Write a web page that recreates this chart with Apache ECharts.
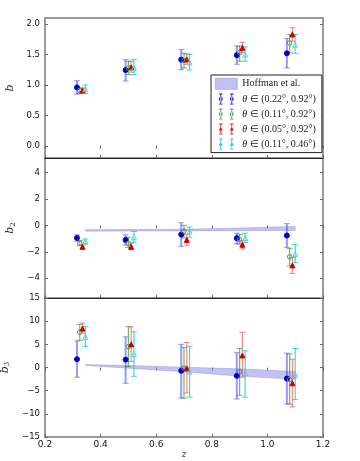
<!DOCTYPE html>
<html>
<head>
<meta charset="utf-8">
<script src="https://cdn.jsdelivr.net/npm/echarts@6/dist/echarts.min.js"></script>
<style>
  html, body { margin: 0; padding: 0; background: #fff; }
  #main { width: 360px; height: 461px; }
</style>
</head>
<body>
<div id="main"></div>
<script>
// redshift of each sample (slightly shifted so the bars don't overlap)
var zA = [0.315, 0.49, 0.69, 0.89, 1.07];
var zB = [0.325, 0.50, 0.70, 0.90, 1.08];
var zC = [0.335, 0.51, 0.71, 0.91, 1.09];
var zD = [0.345, 0.52, 0.72, 0.92, 1.10];

// [value, low, high] per redshift
var b1A = [[0.96, 0.85, 1.07], [1.245, 1.065, 1.415], [1.415, 1.25, 1.58], [1.49, 1.34, 1.64], [1.52, 1.28, 1.76]];
var b1B = [[0.91, 0.86, 0.95], [1.28, 1.17, 1.39], [1.40, 1.28, 1.52], [1.53, 1.39, 1.64], [1.69, 1.53, 1.83]];
var b1C = [[0.91, 0.87, 0.95], [1.29, 1.21, 1.39], [1.42, 1.34, 1.51], [1.61, 1.53, 1.70], [1.83, 1.72, 1.94]];
var b1D = [[0.93, 0.86, 1.00], [1.28, 1.17, 1.42], [1.37, 1.245, 1.50], [1.50, 1.39, 1.625], [1.66, 1.52, 1.83]];

var b2A = [[-0.95, -1.2, -0.72], [-1.1, -1.49, -0.72], [-0.7, -1.59, 0.2], [-0.97, -1.41, -0.59], [-0.77, -1.67, 0.13]];
var b2B = [[-1.36, -1.54, -1.15], [-1.36, -1.67, -0.9], [-0.44, -0.95, 0.0], [-1.1, -1.41, -0.69], [-2.38, -3.08, -1.74]];
var b2C = [[-1.62, -1.79, -1.49], [-1.62, -1.85, -1.36], [-1.1, -1.49, -0.69], [-1.46, -1.79, -1.15], [-3.03, -3.64, -2.44]];
var b2D = [[-1.2, -1.41, -1.03], [-0.9, -1.28, -0.46], [-0.46, -0.9, -0.13], [-0.95, -1.28, -0.59], [-2.18, -2.82, -1.46]];

var b3A = [[1.8, -2.1, 5.7], [1.7, -3.4, 6.6], [-0.7, -6.6, 5.0], [-1.8, -6.8, 3.2], [-2.4, -7.9, 3.1]];
var b3B = [[7.6, 5.9, 9.3], [4.5, 0.2, 8.8], [-0.1, -6.6, 4.3], [-0.9, -6.0, 4.1], [-2.6, -7.9, 2.9]];
var b3C = [[8.4, 7.4, 9.6], [5.0, 1.3, 8.8], [-0.2, -5.5, 5.4], [2.6, -2.1, 7.6], [-3.4, -8.5, 1.8]];
var b3D = [[6.6, 4.5, 8.9], [2.9, -1.9, 7.7], [-0.9, -6.4, 4.6], [-1.2, -6.4, 3.6], [-1.6, -6.9, 4.1]];

// Hoffman et al. prediction bands
var bandZ = [0.346, 0.5, 0.7, 0.9, 1.1];
var band2Lo = [-0.44, -0.43, -0.42, -0.40, -0.38];
var band2Hi = [-0.33, -0.32, -0.29, -0.20, -0.08];
var band3Lo = [0.43, -0.14, -0.92, -1.9, -2.5];
var band3Hi = [0.64, 0.43, 0.08, -0.28, -0.86];

var y1Ticks = [0.0, 0.5, 1.0, 1.5, 2.0];
var y2Ticks = [-4, -2, 0, 2, 4];
var y3Ticks = [-15, -10, -5, 0, 5, 10, 15];

var names = ['θ ∈ (0.22°, 0.92°)', 'θ ∈ (0.11°, 0.92°)', 'θ ∈ (0.05°, 0.92°)', 'θ ∈ (0.11°, 0.46°)'];
var hoffName = 'Hoffman et al.';

var samples = [
  { name: names[0], z: zA, d: [b1A, b2A, b3A], bar: 'rgba(70,70,255,0.55)', bw: 2, sym: 'circle', size: 5, fill: '#0000c8', edge: '#0000c8' },
  { name: names[1], z: zB, d: [b1B, b2B, b3B], bar: 'rgba(30,150,30,0.65)', bw: 1.2, sym: 'circle', size: 4.5, fill: 'rgba(255,255,255,0)', edge: '#4a9d4a' },
  { name: names[2], z: zC, d: [b1C, b2C, b3C], bar: 'rgba(255,60,60,0.65)', bw: 1.1, sym: 'triangle', size: 5, fill: '#c80000', edge: '#c80000' },
  { name: names[3], z: zD, d: [b1D, b2D, b3D], bar: 'rgba(0,205,205,0.75)', bw: 1.2, sym: 'triangle', size: 5, fill: 'rgba(255,255,255,0)', edge: '#4fd6d6' }
];

var gridTop = [18, 158, 298];
var gridH = [140, 140, 139];
var yMin = [-0.2, -5.5, -15];
var yMax = [2.1, 5.1, 15];
var yTicks = [y1Ticks, y2Ticks, y3Ticks];

function minus(v) {
  return String(v).replace('-', '\u2212');
}

var myChart = echarts.init(document.getElementById('main'));

var grids = [], xAxes = [], yAxes = [], series = [];

for (var g = 0; g < 3; g++) {
  grids.push({ left: 45, width: 278, top: gridTop[g], height: gridH[g], containLabel: false, outerBoundsMode: 'none',
    show: true, borderColor: '#9a9a9a', borderWidth: 2, backgroundColor: 'transparent' });

  var last = g === 2;
  xAxes.push({
    type: 'value', gridIndex: g, min: 0.2, max: 1.2, interval: 0.2, position: 'bottom',
    axisLine: { show: true, onZero: false, lineStyle: { color: last ? '#9a9a9a' : '#222', width: last ? 2 : 1.2 } },
    axisTick: { inside: true, length: 3, lineStyle: { color: '#666' } },
    axisLabel: { show: last, margin: 3, fontSize: 9, color: '#111', fontFamily: 'DejaVu Sans',
      formatter: function (v) { return v.toFixed(1); } },
    splitLine: { show: false },
    name: last ? 'z' : '', nameLocation: 'middle', nameGap: 12,
    nameTextStyle: { fontFamily: 'DejaVu Serif', fontStyle: 'italic', fontSize: 9, color: '#222' }
  });
  xAxes.push({
    type: 'value', gridIndex: g, min: 0.2, max: 1.2, interval: 0.2, position: 'top',
    axisLine: { show: false }, axisLabel: { show: false }, splitLine: { show: false },
    axisTick: { inside: true, length: 3, lineStyle: { color: '#666' } }
  });

  var yname = g === 0 ? '{b|b}' : '{b|b}{s|' + (g + 1) + '}';
  (function (g) {
    yAxes.push({
      type: 'value', gridIndex: g, min: yMin[g], max: yMax[g], position: 'left',
      axisLine: { show: false },
      axisTick: { inside: true, length: 3, lineStyle: { color: '#666' }, customValues: yTicks[g] },
      axisLabel: { margin: 5, fontSize: 8.5, color: '#111', fontFamily: 'DejaVu Sans', customValues: yTicks[g],
        formatter: function (v) { return g === 0 ? v.toFixed(1) : minus(v); } },
      splitLine: { show: false },
      name: yname, nameLocation: 'middle', nameGap: 20,
      nameTextStyle: {
        rich: {
          b: { fontFamily: 'DejaVu Serif', fontStyle: 'italic', fontSize: 11, color: '#222', lineHeight: 12 },
          s: { fontFamily: 'DejaVu Serif', fontSize: 7, color: '#222', verticalAlign: 'bottom', lineHeight: 12, padding: [2, 0, 0, 0] }
        }
      }
    });
  })(g);
  yAxes.push({
    type: 'value', gridIndex: g, min: yMin[g], max: yMax[g], position: 'right',
    axisLine: { show: false }, axisLabel: { show: false }, splitLine: { show: false },
    axisTick: { inside: true, length: 3, lineStyle: { color: '#666' }, customValues: yTicks[g] }
  });
}

// prediction bands (panels 2 and 3)
function bandSeries(g, lo, hi) {
  var rows = bandZ.map(function (z, i) { return [z, lo[i], hi[i]]; });
  return {
    type: 'custom', name: hoffName, xAxisIndex: g * 2, yAxisIndex: g * 2, z: 1, silent: true,
    data: rows, encode: { x: 0, y: [1, 2] },
    renderItem: function (params, api) {
      if (params.dataIndex !== 0) return null;
      var pts = [];
      for (var i = 0; i < bandZ.length; i++) pts.push(api.coord([bandZ[i], hi[i]]));
      for (var j = bandZ.length - 1; j >= 0; j--) pts.push(api.coord([bandZ[j], lo[j]]));
      return { type: 'polygon', shape: { points: pts },
        style: { fill: 'rgba(120,120,235,0.45)', stroke: 'rgba(110,110,200,0.5)', lineWidth: 0.6 } };
    }
  };
}
series.push(bandSeries(1, band2Lo, band2Hi));
series.push(bandSeries(2, band3Lo, band3Hi));

samples.forEach(function (s, k) {
  for (var g = 0; g < 3; g++) {
    var rows = s.d[g].map(function (r, i) { return [s.z[i], r[1], r[2]]; });
    series.push({
      type: 'custom', name: s.name, xAxisIndex: g * 2, yAxisIndex: g * 2, z: 2 + k, silent: true,
      data: rows, encode: { x: 0, y: [1, 2] },
      renderItem: function (params, api) {
        var x = api.value(0);
        var top = api.coord([x, api.value(2)]);
        var bot = api.coord([x, api.value(1)]);
        return { type: 'group', children: [
          { type: 'line', shape: { x1: top[0], y1: top[1], x2: bot[0], y2: bot[1] }, style: { stroke: s.bar, lineWidth: s.bw } },
          { type: 'line', shape: { x1: top[0] - 3, y1: top[1], x2: top[0] + 3, y2: top[1] }, style: { stroke: s.bar, lineWidth: 1 } },
          { type: 'line', shape: { x1: bot[0] - 3, y1: bot[1], x2: bot[0] + 3, y2: bot[1] }, style: { stroke: s.bar, lineWidth: 1 } }
        ] };
      }
    });
    series.push({
      type: 'scatter', name: s.name, xAxisIndex: g * 2, yAxisIndex: g * 2, z: 10 + k, silent: true,
      symbol: s.sym, symbolSize: s.size,
      itemStyle: { color: s.fill, borderColor: s.edge, borderWidth: 1, opacity: 1 },
      data: s.d[g].map(function (r, i) { return [s.z[i], r[0]]; })
    });
  }
});

// legend icons: two error bars with a marker each
var barPair = 'M3.5 0h1v12h-1zM2 0h4v1h-4zM2 11h4v1h-4zM15.5 0h1v12h-1zM14 0h4v1h-4zM14 11h4v1h-4z';
var circ = 'M1.8 6a2.2 2.2 0 1 0 4.4 0a2.2 2.2 0 1 0 -4.4 0zM13.8 6a2.2 2.2 0 1 0 4.4 0a2.2 2.2 0 1 0 -4.4 0z';
var tri = 'M4 3.4L6.4 7.6H1.6zM16 3.4L18.4 7.6H13.6z';
var legendColors = ['#1a1ae0', '#4fa34f', '#e02020', '#30cccc'];
var legendShapes = [circ, circ, tri, tri];

var option = {
  animation: false,
  grid: grids,
  xAxis: xAxes,
  yAxis: yAxes,
  legend: {
    orient: 'vertical', left: 211, top: 75,
    padding: [3, 6, 3, 4], itemGap: 4, itemWidth: 22, itemHeight: 11,
    backgroundColor: '#fff', borderColor: '#222', borderWidth: 1, borderRadius: 0,
    selectedMode: false,
    textStyle: {
      fontFamily: 'Liberation Serif', fontSize: 10, color: '#222',
      rich: {
        it: { fontFamily: 'Liberation Serif', fontStyle: 'italic', fontSize: 10, color: '#222' },
        n: { fontFamily: 'Liberation Serif', fontSize: 10, color: '#222' }
      }
    },
    formatter: function (name) {
      if (name === hoffName) return '{n|' + name + '}';
      return '{it|θ}{n|' + name.slice(1) + '}';
    },
    data: [
      { name: hoffName, icon: 'rect', itemStyle: { color: 'rgba(140,140,240,0.55)', borderColor: 'rgba(120,120,220,0.7)', borderWidth: 0.6 } }
    ].concat(names.map(function (n, k) {
      return { name: n, icon: 'path://' + barPair + legendShapes[k], itemStyle: { color: legendColors[k], borderWidth: 0 } };
    }))
  },
  series: series
};

myChart.setOption(option);
</script>
</body>
</html>
